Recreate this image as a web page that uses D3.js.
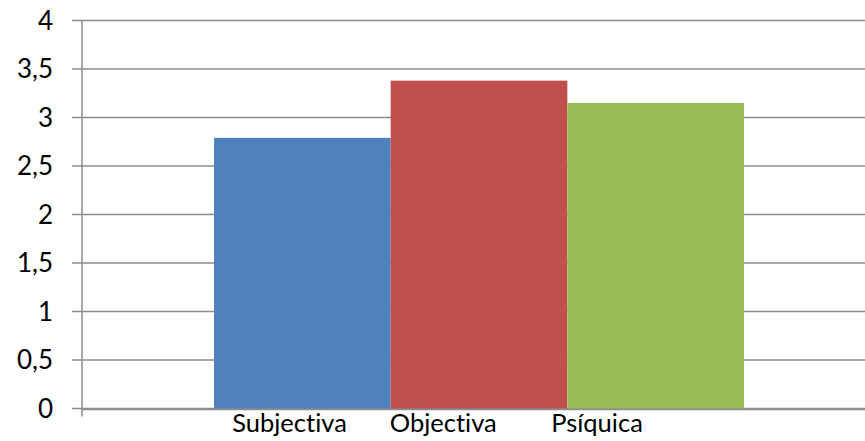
<!DOCTYPE html>
<html><head><meta charset="utf-8">
<script src="https://cdn.jsdelivr.net/npm/d3@7"></script>
<style>body{margin:0;background:#fff}svg{display:block}text{font-family:Lato,"Open Sans",sans-serif;fill:#000;font-variant-ligatures:none;font-feature-settings:"liga" 0}</style>
</head><body><svg id="c" width="865" height="441"></svg>
<script>
const categories = ["Subjectiva", "Objectiva", "Psíquica"];
const values = [2.79, 3.38, 3.15];
const colors = ["#4F81BD", "#C0504D", "#9BBB59"];
const yTicks = [0, 0.5, 1, 1.5, 2, 2.5, 3, 3.5, 4];

(function () {
const svg = d3.select("#c");
const mLeft = 82, mRight = 865, mTop = 20.5, mBottom = 408.5;
const y = d3.scaleLinear().domain([0, 4]).range([mBottom, mTop]);
const x = d3.scaleBand().domain(categories).range([214, 744]).padding(0);
const xl = d3.scalePoint().domain(categories).range([289.5, 597]);
const fmt = d => String(d).replace(".", ",");

svg.append("g").selectAll("line").data(yTicks).join("line")
  .attr("x1", mLeft - 10).attr("x2", mRight)
  .attr("y1", d => y(d)).attr("y2", d => y(d))
  .attr("stroke", "#8c8c8c").attr("stroke-width", 1.5);

svg.append("g").selectAll("rect").data(values).join("rect")
  .attr("x", (d, i) => x(categories[i]))
  .attr("width", x.bandwidth())
  .attr("y", d => y(d))
  .attr("height", d => y(0) - y(d))
  .attr("fill", (d, i) => colors[i]);

svg.append("line").attr("x1", mLeft).attr("x2", mLeft).attr("y1", mTop).attr("y2", mBottom + 8)
  .attr("stroke", "#8c8c8c").attr("stroke-width", 1.5);
svg.append("line").attr("x1", mLeft).attr("x2", mRight).attr("y1", mBottom + 1).attr("y2", mBottom + 1)
  .attr("stroke", "#8c8c8c").attr("stroke-width", 1.5);

svg.append("g").selectAll("text").data(yTicks).join("text")
  .attr("x", 53).attr("y", d => y(d)).attr("dy", "0.36em")
  .attr("text-anchor", "end").attr("font-size", 26).text(fmt);

svg.append("g").selectAll("text").data(categories).join("text")
  .attr("x", d => xl(d)).attr("y", 432)
  .attr("text-anchor", "middle").attr("font-size", 25.5).text(d => d);
})();
</script></body></html>
